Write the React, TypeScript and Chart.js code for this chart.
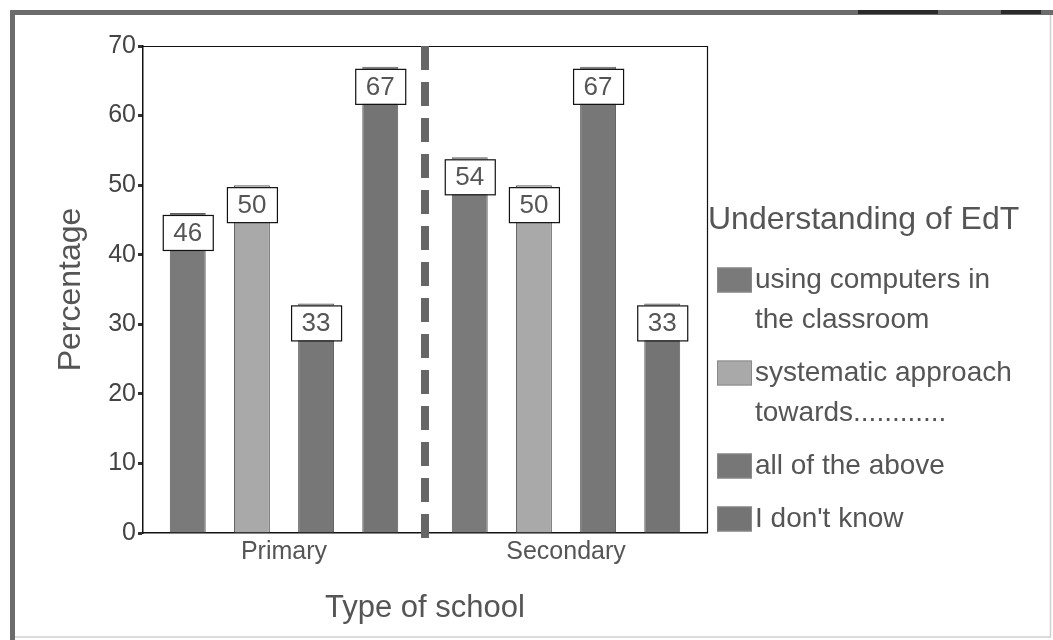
import React, { useEffect, useRef } from 'react';
import { Chart, registerables } from 'chart.js';

Chart.register(...registerables);

const categories = ['Primary', 'Secondary'];
const seriesNames = [
  'using computers in the classroom',
  'systematic approach towards............',
  'all of the above',
  "I don't know",
];
const legendLines = [
  ['using computers in', 'the classroom'],
  ['systematic approach', 'towards............'],
  ['all of the above'],
  ["I don't know"],
];
const usingComputers = [46, 54];
const systematicApproach = [50, 50];
const allOfTheAbove = [33, 67];
const dontKnow = [67, 33];
const seriesValues = [usingComputers, systematicApproach, allOfTheAbove, dontKnow];
const seriesColors = ['#7a7a7a', '#a9a9a9', '#777777', '#747474'];
const yTickValues = [0, 10, 20, 30, 40, 50, 60, 70];
const legendTitle = 'Understanding of EdT';
const xTitle = 'Type of school';
const yTitle = 'Percentage';

const FONT = 'Arial, "Liberation Sans", sans-serif';

const framePlugin = {
  id: 'frame',
  beforeDraw(chart: any) {
    const { ctx, width, height } = chart;
    ctx.save();
    ctx.fillStyle = '#ffffff';
    ctx.fillRect(0, 0, width, height);
    ctx.strokeStyle = '#d0d0d0';
    ctx.lineWidth = 1.5;
    ctx.beginPath();
    ctx.moveTo(1050.5, 12);
    ctx.lineTo(1050.5, 637);
    ctx.lineTo(12, 637);
    ctx.stroke();
    ctx.fillStyle = '#6c6c6c';
    ctx.fillRect(10, 10, width - 10, 5);
    ctx.fillRect(10, 10, 5, height - 10);
    ctx.fillStyle = '#2a2a2a';
    ctx.fillRect(858, 10, 80, 4);
    ctx.fillRect(1001, 10, 40, 4);
    ctx.restore();
  },
  afterDatasetsDraw(chart: any) {
    const { ctx, chartArea, scales } = chart;
    ctx.save();
    // plot frame top & right
    ctx.strokeStyle = '#111111';
    ctx.lineWidth = 1.2;
    ctx.beginPath();
    ctx.moveTo(chartArea.left, chartArea.top + 0.5);
    ctx.lineTo(chartArea.right + 0.5, chartArea.top + 0.5);
    ctx.lineTo(chartArea.right + 0.5, chartArea.bottom);
    ctx.stroke();
    // dashed separator between categories
    const xs = scales.x;
    const mid = (xs.getPixelForValue(0) + xs.getPixelForValue(1)) / 2;
    ctx.strokeStyle = '#666666';
    ctx.lineWidth = 8;
    ctx.setLineDash([24, 12]);
    ctx.beginPath();
    ctx.moveTo(mid, chartArea.top);
    ctx.lineTo(mid, chartArea.bottom + 5);
    ctx.stroke();
    ctx.setLineDash([]);
    // value boxes
    chart.data.datasets.forEach((ds: any, i: number) => {
      const meta = chart.getDatasetMeta(i);
      meta.data.forEach((bar: any, j: number) => {
        const bw = 50;
        const bh = 35;
        const x = bar.x - bw / 2;
        const y = bar.y + 2;
        ctx.fillStyle = '#ffffff';
        ctx.fillRect(x, y, bw, bh);
        ctx.strokeStyle = '#111111';
        ctx.lineWidth = 1.2;
        ctx.strokeRect(x + 0.5, y + 0.5, bw, bh);
        ctx.fillStyle = '#555555';
        ctx.font = `26px ${FONT}`;
        ctx.textAlign = 'center';
        ctx.textBaseline = 'middle';
        ctx.fillText(String(ds.data[j]), bar.x, y + bh / 2 + 1);
      });
    });
    ctx.restore();
  },
  afterDraw(chart: any) {
    const { ctx } = chart;
    ctx.save();
    ctx.fillStyle = '#555555';
    ctx.textAlign = 'left';
    ctx.textBaseline = 'middle';
    ctx.font = `32px ${FONT}`;
    ctx.fillText(legendTitle, 708, 220);
    let y = 280;
    chart.data.datasets.forEach((ds: any, i: number) => {
      const lines = legendLines[i];
      ctx.fillStyle = ds.backgroundColor;
      ctx.fillRect(717, y - 12.5, 35, 25);
      ctx.strokeStyle = '#8a8a8a';
      ctx.lineWidth = 1;
      ctx.strokeRect(717.5, y - 12, 34, 24);
      ctx.fillStyle = '#555555';
      ctx.font = `28px ${FONT}`;
      lines.forEach((ln: string, k: number) => {
        ctx.fillText(ln, 755, y + k * 40);
      });
      y += lines.length * 40 + 13;
    });
    ctx.restore();
  },
};

export default function App() {
  const ref = useRef<HTMLCanvasElement | null>(null);
  useEffect(() => {
    if (!ref.current) return;
    const chart = new Chart(ref.current, {
      type: 'bar',
      data: {
        labels: categories,
        datasets: seriesValues.map((vals, i) => ({
          label: seriesNames[i],
          data: vals,
          backgroundColor: seriesColors[i],
          borderColor: '#5e5e5e',
          borderWidth: 1,
          categoryPercentage: 0.91,
          barPercentage: 0.56,
        })),
      },
      options: {
        responsive: false,
        animation: false,
        devicePixelRatio: 1,
        layout: { padding: { left: 0, top: 46, right: 346, bottom: 0 } },
        plugins: {
          legend: { display: false },
          tooltip: { enabled: false },
        },
        scales: {
          x: {
            grid: { display: false, drawTicks: false },
            border: { display: true, color: '#111111', width: 1.5 },
            ticks: {
              padding: 4,
              color: '#555555',
              font: { size: 25, family: FONT },
            },
            title: {
              display: true,
              text: xTitle,
              color: '#555555',
              font: { size: 31, family: FONT },
              padding: { top: 0, bottom: 13 },
            },
            afterFit(scale: any) {
              scale.height = 107;
            },
          },
          y: {
            min: 0,
            max: 70,
            afterBuildTicks(scale: any) {
              scale.ticks = yTickValues.map((v) => ({ value: v }));
            },
            grid: {
              drawOnChartArea: false,
              drawTicks: true,
              tickLength: 5,
              tickWidth: 3,
              tickColor: '#333333',
            },
            border: { display: true, color: '#111111', width: 1.5 },
            ticks: {
              padding: 2,
              color: '#444444',
              font: { size: 25, family: FONT },
            },
            title: {
              display: true,
              text: yTitle,
              color: '#555555',
              font: { size: 32, family: FONT },
              padding: { top: 52, bottom: 0 },
            },
            afterFit(scale: any) {
              scale.width = 143;
            },
          },
        },
      },
      plugins: [framePlugin],
    });
    return () => chart.destroy();
  }, []);
  return (
    <div style={{ position: 'absolute', left: 0, top: 0, width: 1053, height: 640 }}>
      <canvas ref={ref} width={1053} height={640} style={{ display: 'block' }} />
    </div>
  );
}
